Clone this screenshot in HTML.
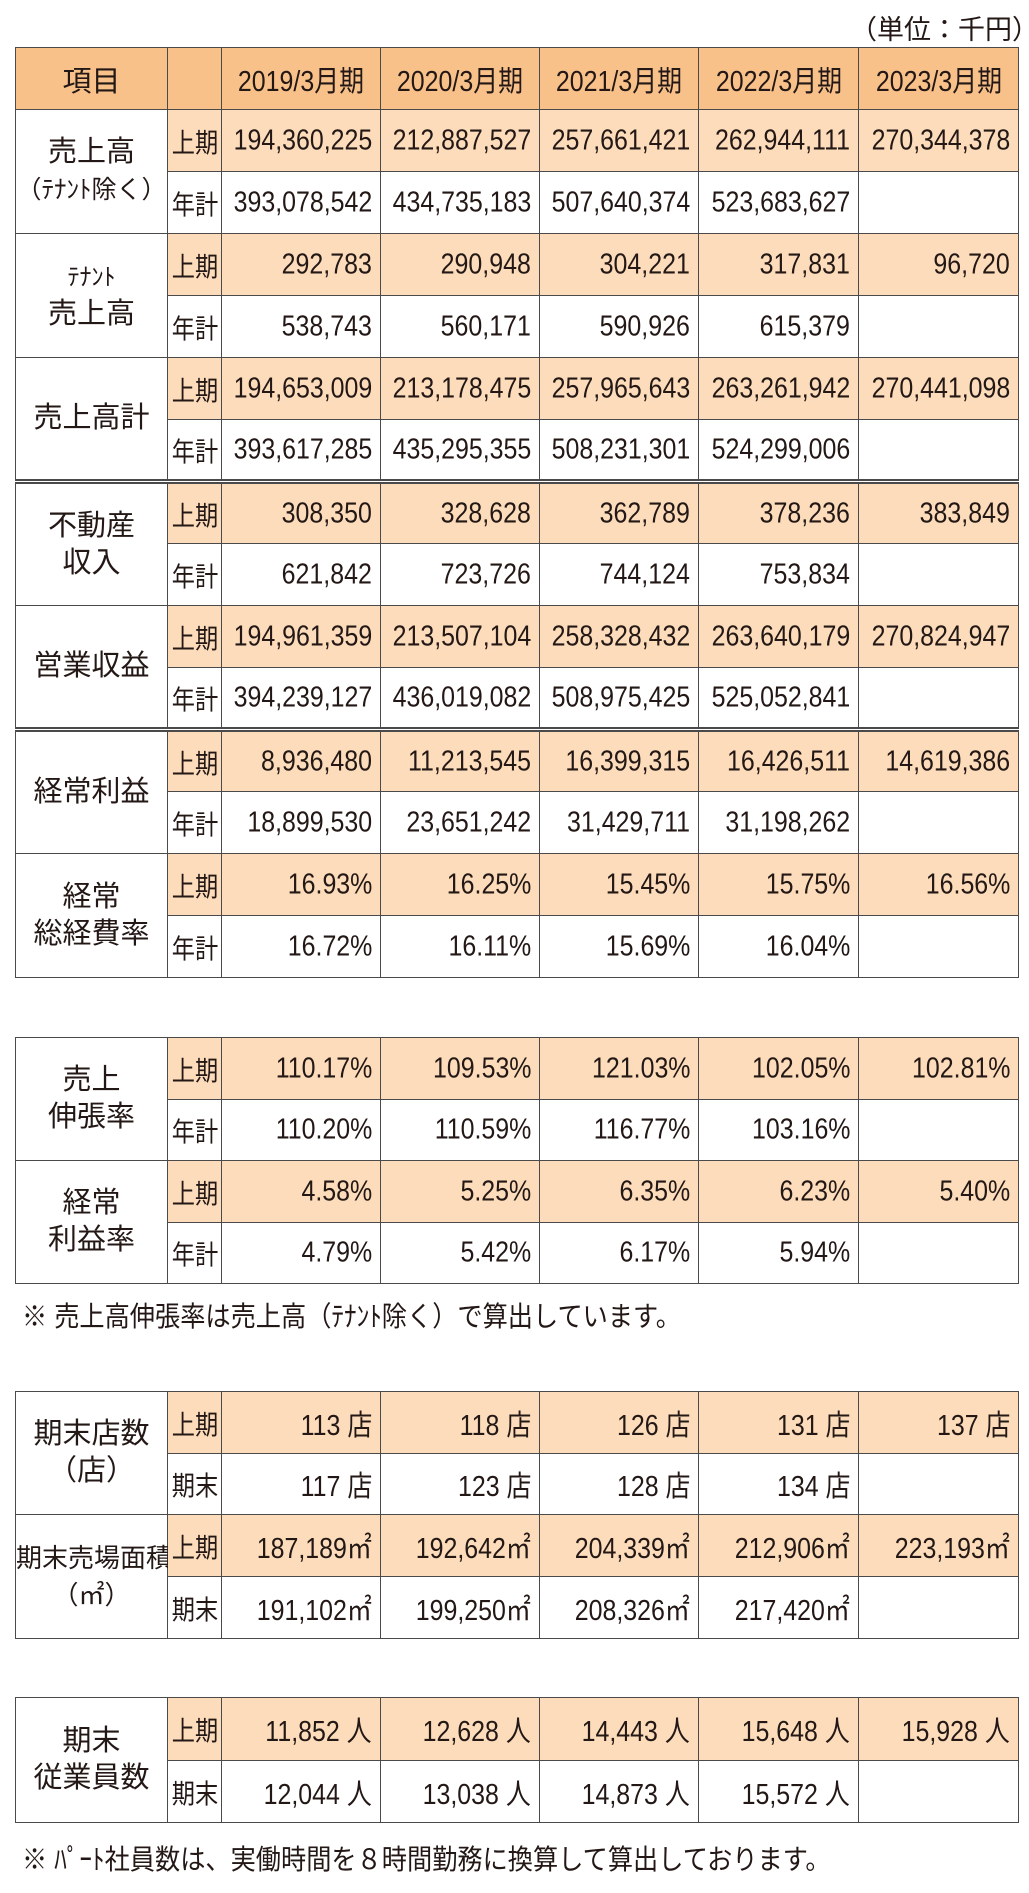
<!DOCTYPE html>
<html><head><meta charset="utf-8"><style>
body{margin:0;width:1029px;height:1893px;background:#fff;position:relative;overflow:hidden;font-family:"Liberation Sans","Noto Sans CJK JP",sans-serif;color:#231815}
table{position:absolute;left:15px;border-collapse:collapse;table-layout:fixed;width:1003px}
td{border:1.5px solid #4a4a4a;padding:0;font-size:29px;text-align:right;white-space:nowrap;box-sizing:border-box;position:relative}
td b{font-weight:normal;position:absolute;right:8px;top:50%;transform:translateY(-50%) scaleX(.86);transform-origin:right center;white-space:nowrap}
td.l{text-align:center;padding:0;font-size:29px;line-height:37px;background:#fff}
td.s{font-size:27px}
td.s b,tr.h td b{right:auto;left:50%;transform:translate(-50%,-50%) scaleX(.86);transform-origin:center center}
tr.u td{background:#fcdcba}
tr.u td.l{background:#fff}
tr.h td{background:#f8c18a;text-align:center;padding:0}
tr.dbl td{border-top:5px double #4a4a4a}
.note{position:absolute;left:22px;font-size:28px;white-space:nowrap;transform:scaleX(.9);transform-origin:left}
</style></head><body>
<div style="position:absolute;left:850px;top:8px;font-size:27px;">（単位：千円）</div>
<table style="top:47px">
<colgroup><col style="width:152px"><col style="width:54px"><col style="width:159px"><col style="width:159px"><col style="width:159px"><col style="width:160px"><col style="width:160px"></colgroup>
<tr class="h" style="height:62px"><td>項目</td><td></td><td><b>2019/3月期</b></td><td><b>2020/3月期</b></td><td><b>2021/3月期</b></td><td><b>2022/3月期</b></td><td><b>2023/3月期</b></td></tr>
<tr class="u" style="height:62px"><td class="l" rowspan="2">売上高<br><span style="font-size:25px">（ﾃﾅﾝﾄ除く）</span></td><td class="s"><b>上期</b></td><td><b>194,360,225</b></td><td><b>212,887,527</b></td><td><b>257,661,421</b></td><td><b>262,944,111</b></td><td><b>270,344,378</b></td></tr>
<tr style="height:62px"><td class="s"><b>年計</b></td><td><b>393,078,542</b></td><td><b>434,735,183</b></td><td><b>507,640,374</b></td><td><b>523,683,627</b></td><td></td></tr>
<tr class="u" style="height:62px"><td class="l" rowspan="2"><span style="font-size:24px">ﾃﾅﾝﾄ</span><br>売上高</td><td class="s"><b>上期</b></td><td><b>292,783</b></td><td><b>290,948</b></td><td><b>304,221</b></td><td><b>317,831</b></td><td><b>96,720</b></td></tr>
<tr style="height:62px"><td class="s"><b>年計</b></td><td><b>538,743</b></td><td><b>560,171</b></td><td><b>590,926</b></td><td><b>615,379</b></td><td></td></tr>
<tr class="u" style="height:62px"><td class="l" rowspan="2">売上高計</td><td class="s"><b>上期</b></td><td><b>194,653,009</b></td><td><b>213,178,475</b></td><td><b>257,965,643</b></td><td><b>263,261,942</b></td><td><b>270,441,098</b></td></tr>
<tr style="height:62px"><td class="s"><b>年計</b></td><td><b>393,617,285</b></td><td><b>435,295,355</b></td><td><b>508,231,301</b></td><td><b>524,299,006</b></td><td></td></tr>
<tr class="u dbl" style="height:62px"><td class="l" rowspan="2">不動産<br>収入</td><td class="s"><b>上期</b></td><td><b>308,350</b></td><td><b>328,628</b></td><td><b>362,789</b></td><td><b>378,236</b></td><td><b>383,849</b></td></tr>
<tr style="height:62px"><td class="s"><b>年計</b></td><td><b>621,842</b></td><td><b>723,726</b></td><td><b>744,124</b></td><td><b>753,834</b></td><td></td></tr>
<tr class="u" style="height:62px"><td class="l" rowspan="2">営業収益</td><td class="s"><b>上期</b></td><td><b>194,961,359</b></td><td><b>213,507,104</b></td><td><b>258,328,432</b></td><td><b>263,640,179</b></td><td><b>270,824,947</b></td></tr>
<tr style="height:62px"><td class="s"><b>年計</b></td><td><b>394,239,127</b></td><td><b>436,019,082</b></td><td><b>508,975,425</b></td><td><b>525,052,841</b></td><td></td></tr>
<tr class="u dbl" style="height:62px"><td class="l" rowspan="2">経常利益</td><td class="s"><b>上期</b></td><td><b>8,936,480</b></td><td><b>11,213,545</b></td><td><b>16,399,315</b></td><td><b>16,426,511</b></td><td><b>14,619,386</b></td></tr>
<tr style="height:62px"><td class="s"><b>年計</b></td><td><b>18,899,530</b></td><td><b>23,651,242</b></td><td><b>31,429,711</b></td><td><b>31,198,262</b></td><td></td></tr>
<tr class="u" style="height:62px"><td class="l" rowspan="2">経常<br>総経費率</td><td class="s"><b>上期</b></td><td><b>16.93%</b></td><td><b>16.25%</b></td><td><b>15.45%</b></td><td><b>15.75%</b></td><td><b>16.56%</b></td></tr>
<tr style="height:62px"><td class="s"><b>年計</b></td><td><b>16.72%</b></td><td><b>16.11%</b></td><td><b>15.69%</b></td><td><b>16.04%</b></td><td></td></tr>
</table>

<table style="top:1037px">
<colgroup><col style="width:152px"><col style="width:54px"><col style="width:159px"><col style="width:159px"><col style="width:159px"><col style="width:160px"><col style="width:160px"></colgroup>
<tr class="u" style="height:62px"><td class="l" rowspan="2">売上<br>伸張率</td><td class="s"><b>上期</b></td><td><b>110.17%</b></td><td><b>109.53%</b></td><td><b>121.03%</b></td><td><b>102.05%</b></td><td><b>102.81%</b></td></tr>
<tr style="height:61px"><td class="s"><b>年計</b></td><td><b>110.20%</b></td><td><b>110.59%</b></td><td><b>116.77%</b></td><td><b>103.16%</b></td><td></td></tr>
<tr class="u" style="height:62px"><td class="l" rowspan="2">経常<br>利益率</td><td class="s"><b>上期</b></td><td><b>4.58%</b></td><td><b>5.25%</b></td><td><b>6.35%</b></td><td><b>6.23%</b></td><td><b>5.40%</b></td></tr>
<tr style="height:61px"><td class="s"><b>年計</b></td><td><b>4.79%</b></td><td><b>5.42%</b></td><td><b>6.17%</b></td><td><b>5.94%</b></td><td></td></tr>
</table>
<div class="note" style="top:1295px">※ 売上高伸張率は売上高（ﾃﾅﾝﾄ除く）で算出しています。</div>

<table style="top:1391px">
<colgroup><col style="width:152px"><col style="width:54px"><col style="width:159px"><col style="width:159px"><col style="width:159px"><col style="width:160px"><col style="width:160px"></colgroup>
<tr class="u" style="height:62px"><td class="l" rowspan="2">期末店数<br>（店）</td><td class="s"><b>上期</b></td><td><b>113 店</b></td><td><b>118 店</b></td><td><b>126 店</b></td><td><b>131 店</b></td><td><b>137 店</b></td></tr>
<tr style="height:61px"><td class="s"><b>期末</b></td><td><b>117 店</b></td><td><b>123 店</b></td><td><b>128 店</b></td><td><b>134 店</b></td><td></td></tr>
<tr class="u" style="height:62px"><td class="l" rowspan="2" style="font-size:26px">期末売場面積<br>（㎡）</td><td class="s"><b>上期</b></td><td><b>187,189㎡</b></td><td><b>192,642㎡</b></td><td><b>204,339㎡</b></td><td><b>212,906㎡</b></td><td><b>223,193㎡</b></td></tr>
<tr style="height:62px"><td class="s"><b>期末</b></td><td><b>191,102㎡</b></td><td><b>199,250㎡</b></td><td><b>208,326㎡</b></td><td><b>217,420㎡</b></td><td></td></tr>
</table>

<table style="top:1697px">
<colgroup><col style="width:152px"><col style="width:54px"><col style="width:159px"><col style="width:159px"><col style="width:159px"><col style="width:160px"><col style="width:160px"></colgroup>
<tr class="u" style="height:63px"><td class="l" rowspan="2">期末<br>従業員数</td><td class="s"><b>上期</b></td><td><b>11,852 人</b></td><td><b>12,628 人</b></td><td><b>14,443 人</b></td><td><b>15,648 人</b></td><td><b>15,928 人</b></td></tr>
<tr style="height:62px"><td class="s"><b>期末</b></td><td><b>12,044 人</b></td><td><b>13,038 人</b></td><td><b>14,873 人</b></td><td><b>15,572 人</b></td><td></td></tr>
</table>
<div class="note" style="top:1838px">※ ﾊﾟｰﾄ社員数は、実働時間を８時間勤務に換算して算出しております。</div>
</body></html>
